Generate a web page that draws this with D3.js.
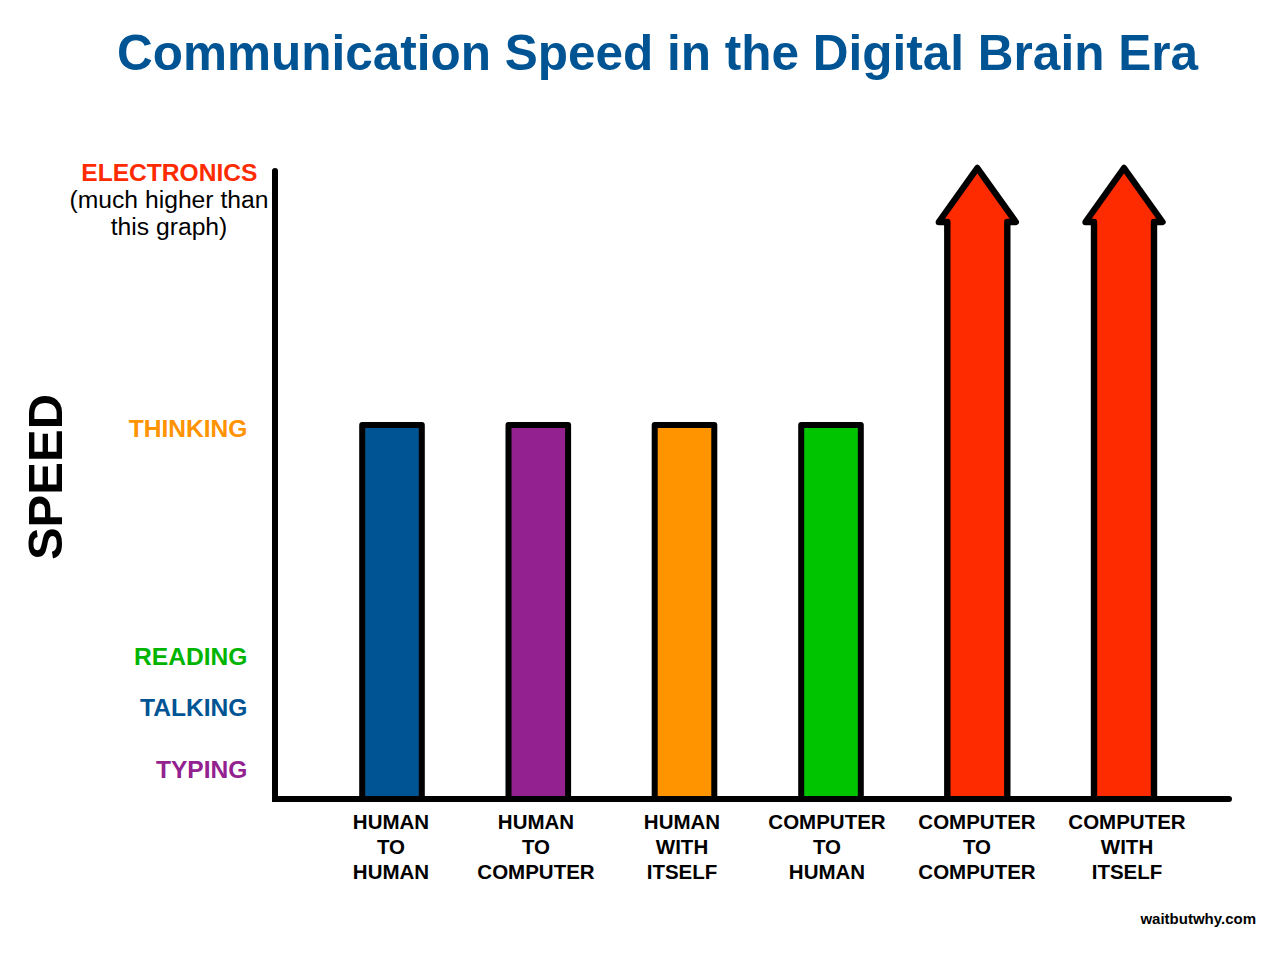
<!DOCTYPE html>
<html lang="en">
<head>
<meta charset="utf-8">
<title>Communication Speed in the Digital Brain Era</title>
<style>
    html, body { margin: 0; padding: 0; background: #fff; }
    svg { display: block; }
    text { font-family: "Liberation Sans", Helvetica, Arial, sans-serif; }
</style>
<script src="https://d3js.org/d3.v7.min.js"></script>
</head>
<body>
<div class="chart"></div>
<script>
// chart values
const categories = [["HUMAN","TO","HUMAN"],["HUMAN","TO","COMPUTER"],["HUMAN","WITH","ITSELF"],["COMPUTER","TO","HUMAN"],["COMPUTER","TO","COMPUTER"],["COMPUTER","WITH","ITSELF"]];
const barCenters = [392, 538.3, 684.5, 831, 977.3, 1124];
const barValues = [374, 374, 374, 374, 631, 631];
const barColors = ["#005493", "#932290", "#ff9300", "#00c400", "#ff2b00", "#ff2b00"];
const isArrow = [false, false, false, false, true, true];
const speedLabels = ["ELECTRONICS", "THINKING", "READING", "TALKING", "TYPING"];
const speedValues = [626, 370, 142, 91, 29];
const speedColors = ["#ff2b00", "#ff9300", "#00b400", "#005493", "#932290"];

const width = 1280, height = 955;
const baseY = 799;

const y = d3.scaleLinear().domain([0, 631]).range([baseY, 168]);

const svg = d3.select(".chart").append("svg")
    .attr("width", width)
    .attr("height", height);

svg.append("text")
    .attr("x", 657.5).attr("y", 70)
    .attr("text-anchor", "middle")
    .attr("font-size", 49.5).attr("font-weight", "bold")
    .attr("fill", "#005493")
    .text("Communication Speed in the Digital Brain Era");

// bars, the last two are arrows
barValues.forEach((v, i) => {
    const cx = barCenters[i];
    if (isArrow[i]) {
        const top = y(v), neck = top + 54;
        svg.append("path")
            .attr("d", d3.line()([
                [cx - 30, baseY], [cx - 30, neck], [cx - 38.5, neck], [cx, top],
                [cx + 38.5, neck], [cx + 30, neck], [cx + 30, baseY]
            ]))
            .attr("fill", barColors[i])
            .attr("stroke", "#000").attr("stroke-width", 6.4)
            .attr("stroke-linejoin", "round");
    } else {
        svg.append("rect")
            .attr("x", cx - 29.8).attr("y", y(v))
            .attr("width", 59.6).attr("height", baseY - y(v))
            .attr("fill", barColors[i])
            .attr("stroke", "#000").attr("stroke-width", 6)
            .attr("stroke-linejoin", "round");
    }
});

// axes
svg.append("path")
    .attr("d", d3.line()([[275, 171], [275, baseY], [1229, baseY]]))
    .attr("fill", "none")
    .attr("stroke", "#000").attr("stroke-width", 6)
    .attr("stroke-linecap", "round");

// category labels
const labelCenters = [391, 536, 682, 827, 977, 1127];
categories.forEach((lines, i) => {
    lines.forEach((line, j) => {
        svg.append("text")
            .attr("x", labelCenters[i]).attr("y", 829 + j * 25)
            .attr("text-anchor", "middle")
            .attr("font-size", 20.5).attr("font-weight", "bold")
            .attr("fill", "#000")
            .text(line);
    });
});

// speed labels
speedLabels.forEach((label, i) => {
    const isTop = i === 0;
    svg.append("text")
        .attr("x", isTop ? 257.5 : 247.5).attr("y", y(speedValues[i]) + 8)
        .attr("text-anchor", "end")
        .attr("font-size", 24.6).attr("font-weight", "bold")
        .attr("fill", speedColors[i])
        .text(label);
});

["(much higher than", "this graph)"].forEach((line, i) => {
    svg.append("text")
        .attr("x", 169).attr("y", 208 + i * 27)
        .attr("text-anchor", "middle")
        .attr("font-size", 24.7)
        .attr("fill", "#000")
        .text(line);
});

svg.append("text")
    .attr("transform", "translate(62,477) rotate(-90)")
    .attr("text-anchor", "middle")
    .attr("font-size", 49).attr("font-weight", "bold")
    .attr("fill", "#000")
    .text("SPEED");

svg.append("text")
    .attr("x", 1256).attr("y", 924)
    .attr("text-anchor", "end")
    .attr("font-size", 15).attr("font-weight", "bold")
    .attr("fill", "#000")
    .text("waitbutwhy.com");
</script>
</body>
</html>
